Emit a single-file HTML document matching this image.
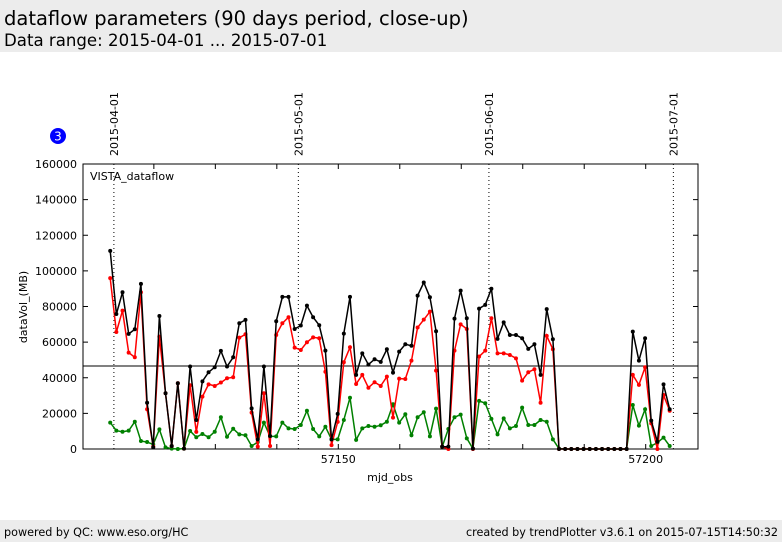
<!DOCTYPE html>
<html><head><meta charset="utf-8"><style>
body{margin:0;width:782px;height:542px;overflow:hidden;background:#fff;font-family:"Liberation Sans","DejaVu Sans",sans-serif;}
svg text{font-family:"DejaVu Sans","Liberation Sans",sans-serif;}
</style></head><body>
<svg id="c" width="782" height="542" xmlns="http://www.w3.org/2000/svg">
<rect x="0" y="0" width="782" height="52" fill="#ececec"/>
<text x="4" y="25" font-size="19.5" fill="#000">dataflow parameters (90 days period, close-up)</text>
<text x="4" y="46" font-size="16.6" fill="#000">Data range: 2015-04-01 ... 2015-07-01</text>
<rect x="0" y="520" width="782" height="22" fill="#ececec"/>
<text x="4" y="536" font-size="11.2">powered by QC: www.eso.org/HC</text>
<text x="778" y="536" font-size="11.2" text-anchor="end">created by trendPlotter v3.6.1 on 2015-07-15T14:50:32</text>
<circle cx="58" cy="136" r="8" fill="#0000ff"/>
<text x="58" y="140.5" font-size="12" fill="#fff" text-anchor="middle">3</text>
<g id="plot"></g>
</svg>
<script>
const dates = ["2015-04-01","2015-05-01","2015-06-01","2015-07-01"];
const dateMjd = [57113.5,57143.5,57174.5,57204.5];
const yTicks = [0,20000,40000,60000,80000,100000,120000,140000,160000];
const xTickLabels = [57150,57200];
const xMinor = [57120,57130,57140,57150,57160,57170,57180,57190,57200];
const refLine = 46600;
const startMjd = 57112.9;
const total = [111200,75800,88000,64600,67200,92700,26000,900,74700,31300,1700,36900,200,46300,16300,38000,43100,45900,55100,46300,51500,70600,72500,22800,5400,46300,7300,71700,85400,85400,
67400,69300,80500,74000,69500,55200,5400,19700,64800,85400,41600,53700,47400,50400,48900,56000,42900,54700,58800,58000,86100,93500,85200,66100,1300,1300,73200,88900,73400,200,78800,80900,
90000,61800,71100,64000,64000,62200,56200,58800,41600,78500,61600,0,0,0,0,0,0,0,0,0,0,0,0,
65900,49600,62200,15900,4100,36300,22300];
const red = [95900,65700,77700,54100,51500,88000,22300,1300,63100,31300,1700,36900,200,35800,9600,29400,36300,35400,37300,39700,40300,62500,64400,20400,1300,31300,1700,64000,70600,74000,
56900,55600,59900,62700,62200,43400,2200,15200,48700,57100,36500,41600,34400,37500,35400,40600,17600,39500,39300,49600,68200,72600,77100,44000,1300,0,55200,70000,67400,0,51900,55200,
73400,53700,53700,52800,50900,38400,43100,44800,26000,63500,56000,0,0,0,0,0,0,0,0,0,0,0,0,
41600,36000,45900,14400,0,30300,21500];
const green = [14800,10300,9700,10300,15300,4500,3900,2600,11000,900,200,0,200,10100,6600,8400,6600,9700,17800,6900,11400,8200,7700,1700,3900,14800,7100,7100,14800,11600,
11200,13500,21500,11200,7100,12500,5400,5400,16300,28800,5100,11600,12900,12500,13300,15300,25100,14800,19500,7700,17800,20600,7100,22700,1300,11200,17800,19300,6000,200,27000,25700,
16900,8200,17200,11600,12900,23200,13500,13500,16300,15300,5400,200,0,0,0,0,0,0,0,0,0,0,0,
24700,13100,22300,1700,3600,6400,1700];

const L=83,R=698,T=164,B=449;
const xs=m=>338.3+(m-57150)*6.148;
const ys=v=>B-(v/160000)*(B-T);
const NS="http://www.w3.org/2000/svg";
const g=document.getElementById('plot');
function mk(tag,attrs,txt){const e=document.createElementNS(NS,tag);for(const k in attrs)e.setAttribute(k,attrs[k]);if(txt!==undefined)e.textContent=txt;g.appendChild(e);return e;}

const frame=mk('rect',{x:L,y:T,width:R-L,height:B-T,fill:'none',stroke:'#000','stroke-width':1});



yTicks.forEach(v=>{
  const y=ys(v);
  const t1=mk('line',{x1:L,x2:L+5,y1:y,y2:y,stroke:'#000'});
  
  
  const t2=mk('line',{x1:R-5,x2:R,y1:y,y2:y,stroke:'#000'});
  
  
  const tl=mk('text',{x:L-6,y:y+4,'font-size':11,'text-anchor':'end'},String(v));
  
  
});
xMinor.forEach(m=>{
  const x=xs(m);
  const a=mk('line',{x1:x,x2:x,y1:B,y2:B-5,stroke:'#000'});
  
  
  const b=mk('line',{x1:x,x2:x,y1:T,y2:T+5,stroke:'#000'});
  
  
});
xTickLabels.forEach(m=>{
  const t=mk('text',{x:xs(m),y:B+14,'font-size':11,'text-anchor':'middle'},String(m));
  
  
});
dates.forEach((d,i)=>{
  const x=xs(dateMjd[i]);
  const l=mk('line',{x1:x,x2:x,y1:T,y2:B,stroke:'#000','stroke-dasharray':'1,3'});
  
  
  const t=mk('text',{x:x+4,y:156,'font-size':11,transform:`rotate(-90 ${x+4} 156)`},d);
  
  
});
const rl=mk('line',{x1:L,x2:R,y1:ys(refLine),y2:ys(refLine),stroke:'#000','stroke-width':1});



const yt=mk('text',{x:27,y:307,'font-size':11,'text-anchor':'middle',transform:'rotate(-90 27 307)'},'dataVol_(MB)');


const xt=mk('text',{x:390,y:481,'font-size':11,'text-anchor':'middle'},'mjd_obs');


const lab=mk('text',{x:90,y:180,'font-size':11},'VISTA_dataflow');



[[green,'#008000','series-green'],[red,'#ff0000','series-red'],[total,'#000000','series-black']].forEach(([arr,col,name])=>{
  const pts=arr.map((v,i)=>xs(startMjd+i).toFixed(1)+','+ys(v).toFixed(1)).join(' ');
  const pl=mk('polyline',{points:pts,fill:'none',stroke:col,'stroke-width':1.5});
  
  
  arr.forEach((v,i)=>{
    const c=mk('circle',{cx:xs(startMjd+i),cy:ys(v),r:2,fill:col});
    
    
  });
});
</script>
</body></html>
